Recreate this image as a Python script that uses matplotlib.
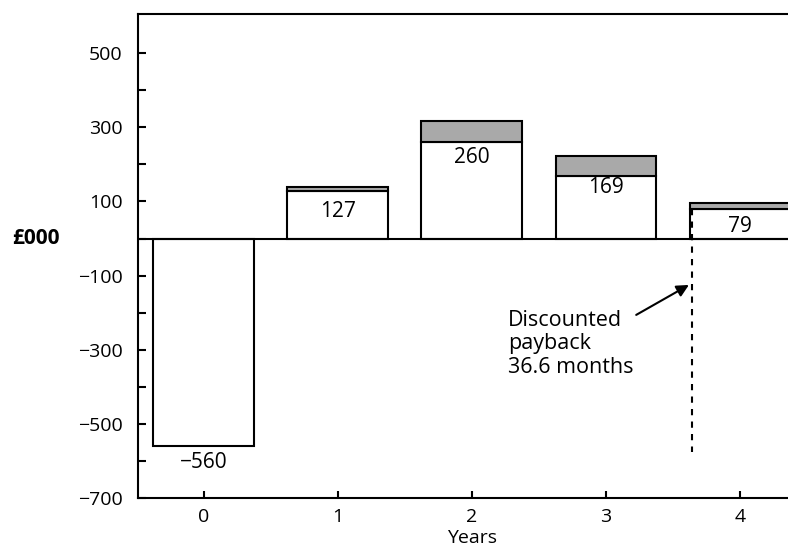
import matplotlib.pyplot as plt
import numpy as np

plt.rcParams['font.family'] = ['Open Sans', 'DejaVu Sans']

years = [0, 1, 2, 3, 4]
discounted = [-560, 127, 260, 169, 79]
undiscounted = [-560, 140, 316, 223, 96]
bar_labels = ['\u2212560', '127', '260', '169', '79']
y_ticks = list(range(-700, 501, 100))
y_labels = ['\u2212700', '', '\u2212500', '', '\u2212300', '', '\u2212100', '', '100', '', '300', '', '500']

fig = plt.figure(figsize=(7.88, 5.48), dpi=100)
ax = fig.add_axes([0.175, 0.091, 0.866, 0.883])

x = np.array(years)
w = 0.75
extra = np.array(undiscounted) - np.array(discounted)
ax.bar(x, discounted, width=w, color='white', edgecolor='black', linewidth=1.5, zorder=2)
ax.bar(x[1:], extra[1:], bottom=np.array(discounted)[1:], width=w,
       color='#a9a9a9', edgecolor='black', linewidth=1.5, zorder=2)
ax.axhline(0, color='black', linewidth=1.5, zorder=3)

# value labels
label_y = [-604, 73, 218, 137, 32]
for xi, ly, t in zip(x, label_y, bar_labels):
    ax.text(xi, ly, t, ha='center', va='center', fontsize=15)

# discounted payback marker
ax.plot([3.64, 3.64], [80, -575], color='black', linestyle=(0, (3, 3)), linewidth=1.5, zorder=4)
ax.annotate('Discounted\npayback\n36.6 months', xy=(3.62, -125), xytext=(2.27, -192),
            ha='left', va='top', fontsize=15.5, linespacing=1.15,
            arrowprops=dict(arrowstyle='-|>', color='black', lw=1.5, mutation_scale=18,
                            shrinkA=0, shrinkB=0, relpos=(0.98, 0.88)))

ax.set_xlim(-0.49, 4.6)
ax.set_ylim(-700, 605)
ax.set_yticks(y_ticks)
ax.set_yticklabels(y_labels, fontsize=14)
ax.set_xticks(years)
ax.set_xticklabels([str(y) for y in years], fontsize=14)
ax.tick_params(direction='in', length=6, width=1.5)
ax.tick_params(axis='y', pad=11)
ax.tick_params(axis='x', length=5, pad=7)
ax.spines['right'].set_visible(False)
for s in ['left', 'bottom', 'top']:
    ax.spines[s].set_linewidth(1.5)

fig.text(472 / 788, 1 - 538 / 548, 'Years', ha='center', va='center', fontsize=14)
fig.text(12 / 788, 1 - 238 / 548, '\u00a3000', ha='left', va='center', fontsize=15, fontweight='bold')

fig.savefig('out.png', dpi=100)
